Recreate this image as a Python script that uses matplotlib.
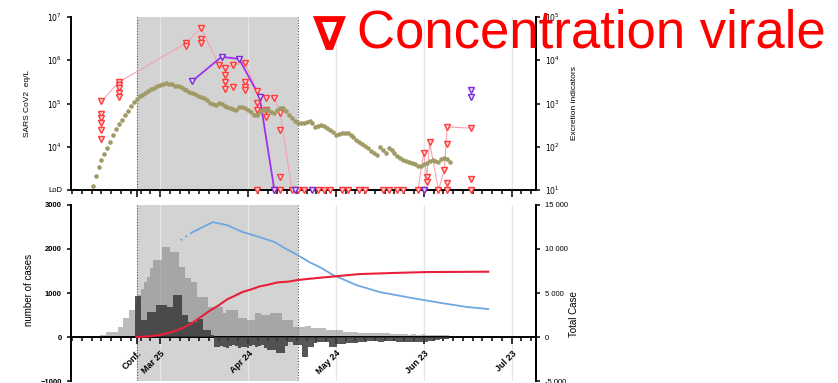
import numpy as np
import matplotlib
matplotlib.use('Agg')
import matplotlib.pyplot as plt
from matplotlib.ticker import FixedLocator, NullLocator

plt.rcParams['font.family'] = ['Liberation Sans', 'DejaVu Sans']

REF = np.datetime64('2020-03-25')


def to_days(dates):
    return (np.array(dates, dtype='datetime64[D]') - REF).astype(float)


# ------------------------------------------------------------------ data
lockdown_start = '2020-03-17'
lockdown_end = '2020-05-11'
label_dates = ['2020-03-17', '2020-03-25', '2020-04-24', '2020-05-24',
               '2020-06-23', '2020-07-23']
label_text = ['Conf.', 'Mar 25', 'Apr 24', 'May 24', 'Jun 23', 'Jul 23']
grid_dates = ['2020-03-25', '2020-04-24', '2020-05-24', '2020-06-23',
              '2020-07-23']

# excretion indicator (olive dots), daily from 2 March, log10 values
excretion_start = '2020-03-02'
excretion_log10 = [
    1.09, 1.32, 1.53, 1.69, 1.83, 1.97, 2.11, 2.27, 2.41, 2.53,
    2.62, 2.73, 2.83, 2.94, 3.03, 3.10, 3.17, 3.20, 3.24, 3.29,
    3.34, 3.36, 3.40, 3.43, 3.45, 3.47, 3.45, 3.45, 3.40, 3.40,
    3.38, 3.34, 3.31, 3.27, 3.24, 3.22, 3.17, 3.15, 3.13, 3.08,
    3.01, 2.99, 2.97, 3.01, 2.99, 2.94, 2.92, 2.90, 2.87, 2.85,
    2.92, 2.92, 2.90, 2.85, 2.80, 2.73, 2.73, 2.80, 2.85, 2.87,
    2.85, 2.80, 2.78, 2.85, 2.90, 2.90, 2.83, 2.73, 2.66, 2.60,
    2.55, 2.55, 2.55, 2.57, 2.60, 2.55, 2.46, 2.48, 2.50, 2.48,
    2.43, 2.39, 2.34, 2.27, 2.29, 2.32, 2.32, 2.32, 2.27, 2.23,
    2.16, 2.11, 2.06, 2.02, 1.97, 1.90, 1.86, 1.81, 1.99, 1.92,
    1.86, 1.97, 1.92, 1.86, 1.79, 1.74, 1.69, 1.67, 1.65, 1.62,
    1.60, 1.55, 1.55, 1.60, 1.62, 1.67, 1.69, 1.67, 1.65, 1.72,
    1.74, 1.72, 1.65]

# viral concentration (red triangles), log10 eq/L
red_dates = ['2020-03-05', '2020-03-11', '2020-04-03', '2020-04-08',
             '2020-04-14', '2020-04-16', '2020-04-19', '2020-04-23',
             '2020-04-27', '2020-04-30', '2020-05-03', '2020-05-05',
             '2020-06-23', '2020-06-24', '2020-06-25', '2020-06-30',
             '2020-07-01', '2020-07-09']
red_log10 = [[5.05, 4.75, 4.66, 4.55, 4.39, 4.19],
             [5.50, 5.42, 5.35, 5.25, 5.15],
             [6.40, 6.33],
             [6.75, 6.49, 6.40],
             [5.89],
             [5.82, 5.66, 5.50, 5.34],
             [5.89, 5.38],
             [5.94, 5.50, 5.38, 5.31],
             [5.30, 5.01, 4.85],
             [5.13, 4.85, 4.69],
             [5.13],
             [4.78, 4.39, 3.30],
             [3.86],
             [3.30, 3.19],
             [4.11],
             [3.46],
             [4.46, 4.06, 3.16],
             [4.43, 3.25]]
red_lod_dates = ['2020-04-27', '2020-05-03', '2020-05-05', '2020-05-09',
                 '2020-05-11', '2020-05-13', '2020-05-18', '2020-05-20',
                 '2020-05-22', '2020-05-26', '2020-05-28', '2020-06-01',
                 '2020-06-03', '2020-06-09', '2020-06-11', '2020-06-14',
                 '2020-06-16', '2020-06-21', '2020-06-23', '2020-06-28',
                 '2020-07-01', '2020-07-09']
LOD_LOG10 = 3.0

# second site (purple triangles)
purple_dates = ['2020-04-05', '2020-04-15', '2020-04-21', '2020-04-28',
                '2020-05-03']
purple_log10 = [5.52, 6.08, 6.03, 5.15, 3.0]
purple_lod_dates = ['2020-05-10', '2020-05-16', '2020-06-23']
purple_late_dates = ['2020-07-09', '2020-07-09']
purple_late_log10 = [5.31, 5.15]

# daily cases (bars), from 5 March
bar_start = '2020-03-05'
cases_light = [
    50, 50, 110, 110, 110, 110, 230, 230, 430, 430,
    610, 610, 800, 950, 1100, 1250, 1360, 1570, 1750, 1750,
    1750, 2050, 2050, 2050, 1930, 1930, 1930, 1590, 1590, 1340,
    1340, 1250, 1250, 910, 910, 910, 910, 680, 680, 680,
    680, 680, 540, 610, 610, 610, 610, 430, 430, 430,
    390, 390, 390, 540, 540, 500, 500, 500, 540, 540,
    540, 540, 390, 390, 390, 390, 230, 230, 230, 230,
    250, 250, 200, 200, 200, 200, 200, 150, 150, 150,
    150, 150, 150, 120, 120, 120, 120, 120, 90, 90,
    90, 90, 90, 90, 80, 80, 80, 80, 80, 60,
    60, 60, 70, 60, 60, 50, 60, 60, 50, 50,
    60, 50, 50, 40, 40, 50, 40, 40, 40]
cases_dark = [
    0, 0, 0, 0, 0, 0, 0, 0, 0, 0, 0, 0,
    930, 930, 390, 390, 570, 570, 570, 720, 720, 720,
    720, 680, 680, 950, 950, 950, 500, 500, 340, 340,
    340, 400, 400, 160, 160, 160, 50,
    -230, -230, -200, -230, -250,
    -200, -180, -200, -250, -230,
    -230, -250, -200, -180, -220,
    -200, -180, -250, -300, -300,
    -300, -360, -360, -360, -200,
    -110, -110, -180, -180, -180,
    -450, -450, -230, -230, -140,
    -110, -110, -110, -110, -230,
    -230, -230, -150, -150, -150,
    -140, -140, -140, -140, -120,
    -120, -120, -100, -100, -100,
    -100, -120, -120, -100, -100,
    -100, -100, -120, -120, -120,
    -120, -120, -120, -120, -120,
    -120, -120, -120, -80, -80,
    -60, -60, -40, -40, -40]

# totals (right axis of the lower panel)
blue_dates = ['2020-04-01', '2020-04-05', '2020-04-08', '2020-04-12',
              '2020-04-17', '2020-04-22', '2020-04-28', '2020-05-03',
              '2020-05-06', '2020-05-11', '2020-05-15', '2020-05-19',
              '2020-05-23', '2020-05-31', '2020-06-08', '2020-06-19',
              '2020-06-29', '2020-07-08', '2020-07-15']
blue_vals = [11000, 11900, 12400, 13050, 12700, 11950, 11350, 10800,
             10200, 9300, 8500, 7850, 7050, 5900, 5100, 4430, 3860,
             3400, 3180]
redline_dates = ['2020-03-17', '2020-03-21', '2020-03-25', '2020-03-28',
                 '2020-03-31', '2020-04-02', '2020-04-05', '2020-04-08',
                 '2020-04-11', '2020-04-14', '2020-04-17', '2020-04-19',
                 '2020-04-22', '2020-04-25', '2020-04-28', '2020-05-01',
                 '2020-05-04', '2020-05-08', '2020-05-11', '2020-05-19',
                 '2020-05-24', '2020-06-01', '2020-06-13', '2020-06-24',
                 '2020-07-15']
redline_vals = [0, 60, 230, 450, 800, 1050, 1600, 2300, 3000, 3600, 4300,
                4600, 5100, 5400, 5750, 5950, 6200, 6300, 6480, 6750,
                6900, 7150, 7280, 7380, 7420]

# ------------------------------------------------------------------ figure
W, H = 838, 383
fig = plt.figure(figsize=(W / 100, H / 100), dpi=100)
L, R = 71, 536
ax1 = fig.add_axes([L / W, 1 - 190 / H, (R - L) / W, (190 - 17) / H])
ax1r = ax1.twinx()
ax2 = fig.add_axes([L / W, 1 - 381 / H, (R - L) / W, (381 - 205) / H])
ax2r = ax2.twinx()

XLIM = (-30.4, 128.3)
lock0, lock1 = to_days([lockdown_start, lockdown_end])
grid_days = to_days(grid_dates)
label_days = to_days(label_dates)
minor_days = np.arange(-30, 128.5, 30 / 9)

for ax in (ax1, ax2):
    ax.set_xlim(XLIM)
    ax.axvspan(lock0, lock1, facecolor='#d3d3d3', edgecolor='none', zorder=0)
    for d in (lock0, lock1):
        ax.axvline(d, color='#555555', lw=0.8, ls=(0, (1, 1.5)), zorder=0.6)
    for d in grid_days:
        ax.axvline(d, color='#e6e6e6', lw=1.0, zorder=0.5)
    ax.xaxis.set_major_locator(FixedLocator(label_days))
    ax.xaxis.set_minor_locator(FixedLocator(minor_days))
    ax.tick_params(axis='x', which='major', direction='out', length=5,
                   width=1.1, color='black')
    ax.tick_params(axis='x', which='minor', direction='out', length=3,
                   width=1.1, color='black')
    ax.spines['top'].set_visible(False)
    for s in ('left', 'bottom', 'right'):
        ax.spines[s].set_linewidth(1.4)

for axr in (ax1r, ax2r):
    for s in ('top', 'bottom', 'left'):
        axr.spines[s].set_visible(False)
    axr.spines['right'].set_linewidth(1.4)

# ---------------- top panel
ax1.set_yscale('log')
ax1.set_ylim(10 ** 3, 10 ** 7)
ax1.yaxis.set_major_locator(FixedLocator([1e3, 1e4, 1e5, 1e6, 1e7]))
ax1.yaxis.set_minor_locator(NullLocator())
ax1.set_yticklabels(['LoD', '$10^4$', '$10^5$', '$10^6$', '$10^7$'])
ax1.tick_params(axis='y', labelsize=5.5, length=3, width=1.1)
ax1.tick_params(axis='x', labelbottom=False)

ax1r.set_yscale('log')
ax1r.set_ylim(10, 1e5)
ax1r.yaxis.set_major_locator(FixedLocator([1e1, 1e2, 1e3, 1e4, 1e5]))
ax1r.yaxis.set_minor_locator(NullLocator())
ax1r.set_yticklabels(['$10^1$', '$10^2$', '$10^3$', '$10^4$', '$10^5$'])
ax1r.tick_params(axis='y', labelsize=5.5, length=3, width=1.1)

exc_days = to_days([excretion_start])[0] + np.arange(len(excretion_log10))
ax1r.plot(exc_days, 10 ** np.array(excretion_log10), 'o', ms=3.3,
          color='#a09b66', mec='none', zorder=3)

# pink connecting line through the highest value of each sampling date
top_by_day = {}
for d, vals in zip(to_days(red_dates), red_log10):
    top_by_day[d] = max(vals)
for d in to_days(red_lod_dates):
    top_by_day.setdefault(d, LOD_LOG10)
conn_days = sorted(top_by_day)
ax1.plot(conn_days, [10 ** top_by_day[d] for d in conn_days], '-',
         color='#f5a3b0', lw=0.8, zorder=2, clip_on=False)

rx, ry = [], []
for d, vals in zip(to_days(red_dates), red_log10):
    rx += [d] * len(vals)
    ry += vals
ax1.plot(rx, 10 ** np.array(ry), 'v', ms=5, mfc='#ffd0d0', mec='#ff3a3a',
         mew=1.0, zorder=4, clip_on=False)
ax1.plot(to_days(red_lod_dates), [10 ** LOD_LOG10] * len(red_lod_dates), 'v',
         ms=5, mfc='#ffd0d0', mec='#ff3a3a', mew=1.0, zorder=4, clip_on=False)

pd_days = to_days(purple_dates)
ax1.plot(pd_days, 10 ** np.array(purple_log10), '-', color='#a030f0', lw=1.3,
         zorder=3, clip_on=False)
ax1.plot(pd_days, 10 ** np.array(purple_log10), 'v', ms=5, mfc='#eadcff',
         mec='#7a2ad8', mew=1.0, zorder=5, clip_on=False)
ax1.plot(to_days(purple_lod_dates), [10 ** LOD_LOG10] * len(purple_lod_dates),
         'v', ms=5, mfc='#eadcff', mec='#7a2ad8', mew=1.0, zorder=5,
         clip_on=False)
ax1.plot(to_days(purple_late_dates), 10 ** np.array(purple_late_log10), 'v',
         ms=5, mfc='#eadcff', mec='#7a2ad8', mew=1.0, zorder=5)

ax1.set_ylabel('SARS CoV2  eq/L', fontsize=6)
ax1.yaxis.set_label_coords(-0.085, 0.5)
ax1r.set_ylabel('Excretion indicators', fontsize=6, rotation=90)
ax1r.yaxis.set_label_coords(1.075, 0.5)

# ---------------- bottom panel
bar_days = to_days([bar_start])[0] + np.arange(len(cases_light))
ax2.bar(bar_days, cases_light, width=1.0, color='#7a7a7a', alpha=0.5, lw=0,
        zorder=2)
ax2.bar(bar_days, cases_dark, width=1.0, color='#3a3a3a', alpha=0.85, lw=0,
        zorder=3)
ax2.set_ylim(-1000, 3000)
ax2.yaxis.set_major_locator(FixedLocator([-1000, 0, 1000, 2000, 3000]))
ax2.tick_params(axis='y', labelsize=5.5, length=3, width=1.1)
for t in ax2.get_yticklabels():
    t.set_fontweight('bold')
ax2.spines['bottom'].set_position(('data', 0))
ax2.set_xticklabels(label_text)
for t in ax2.get_xticklabels():
    t.set_rotation(45)
    t.set_ha('right')
    t.set_va('top')
    t.set_rotation_mode('anchor')
    t.set_fontsize(6.5)
    t.set_fontweight('bold')

ax2r.set_ylim(-5000, 15000)
ax2r.yaxis.set_major_locator(FixedLocator([-5000, 0, 5000, 10000, 15000]))
ax2r.set_yticklabels(['-5 000', '0', '5 000', '10 000', '15 000'])
ax2r.tick_params(axis='y', labelsize=5.5, length=3, width=1.1)

bd = to_days(blue_dates)
bv = np.array(blue_vals)
ax2r.plot(bd[:2], bv[:2], ls=(0, (1, 2)), color='#6fa8e0', lw=1.4, zorder=3)
ax2r.plot(bd[1:], bv[1:], '-', color='#6fa8e0', lw=1.3, zorder=3)
ax2r.plot(to_days(redline_dates), redline_vals, '-', color='#e8203a',
          lw=1.5, zorder=4)

ax2.set_ylabel('number of cases', fontsize=7)
ax2.yaxis.set_label_coords(-0.08, 0.52)
ax2r.set_ylabel('Total Case', fontsize=7, rotation=90)
ax2r.yaxis.set_label_coords(1.072, 0.38)

# ---------------- big annotation
fig.text(313 / W, 1 - 50 / H, '\u2207', color='#ff0000', fontsize=34,
         fontweight='bold', family=['DejaVu Sans'], va='baseline', ha='left')
fig.text(357 / W, 1 - 48 / H, 'Concentration virale', color='#ff0000',
         fontsize=38, va='baseline', ha='left')

fig.savefig('out.png', dpi=100)
